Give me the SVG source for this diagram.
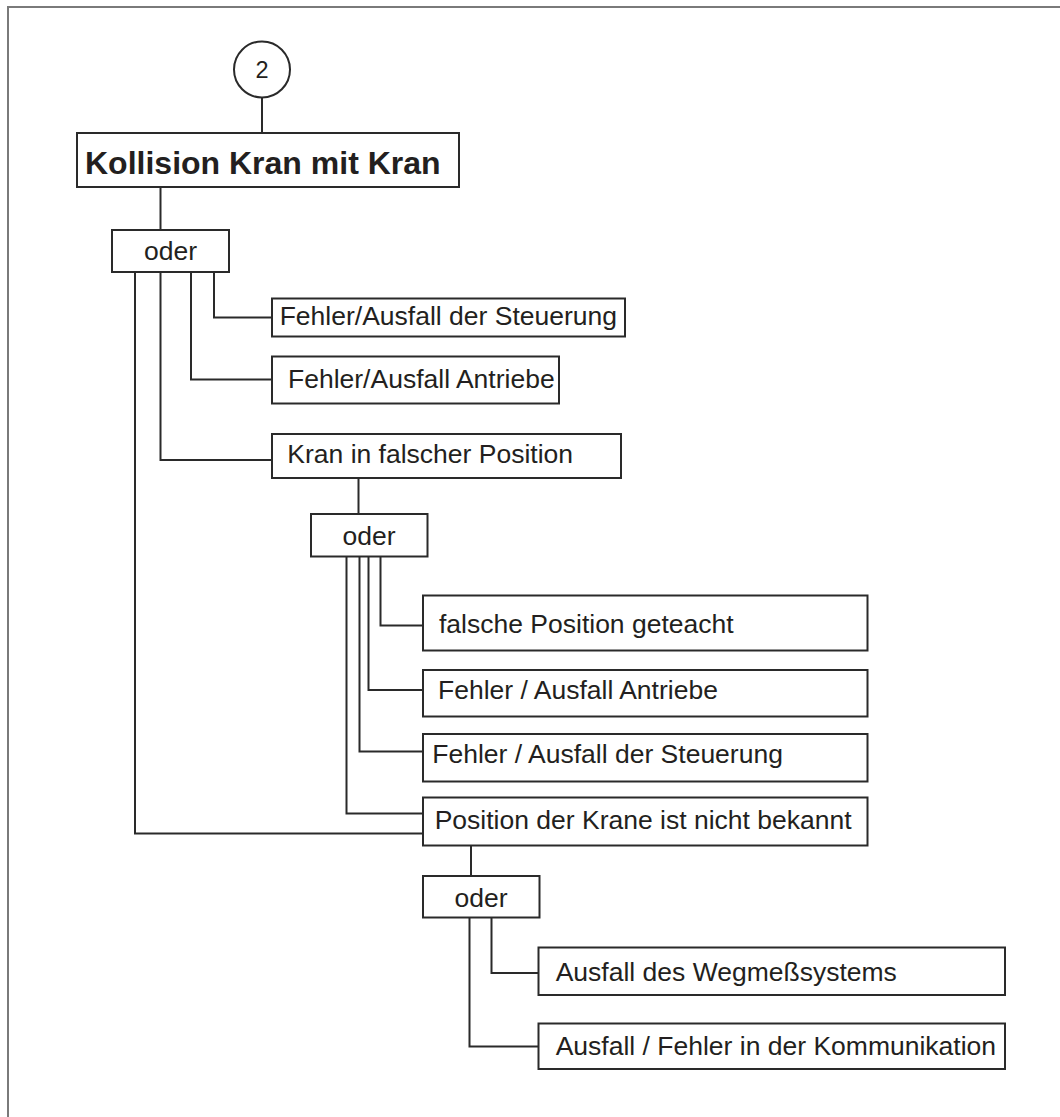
<svg xmlns="http://www.w3.org/2000/svg" width="1060" height="1117" viewBox="0 0 1060 1117">
  <style>
    .frame { fill: none; stroke: #7a7a7a; stroke-width: 2; }
    .box { fill: #ffffff; stroke: #2a2a2a; stroke-width: 2; }
    .wire { fill: none; stroke: #2a2a2a; stroke-width: 2; }
    .lbl { font-family: "Liberation Sans", Arial, sans-serif; font-size: 26.5px; fill: #231f20; }
    .mid { text-anchor: middle; }
    .title { font-family: "Liberation Sans", Arial, sans-serif; font-size: 32px; font-weight: bold; fill: #231f20; }
  </style>
  <rect width="1060" height="1117" fill="#ffffff"/>

  <!-- sheet border (top and left edges only) -->
  <path class="frame" d="M8 1117 V7 H1060"/>

  <!-- connectors -->
  <g id="connectors">
    <path class="wire" d="M262 97.5 V133"/>
    <path class="wire" d="M160.5 187 V230"/>
    <path class="wire" d="M214 272 V317.5 H272"/>
    <path class="wire" d="M191 272 V379.5 H272"/>
    <path class="wire" d="M160.5 272 V460 H272"/>
    <path class="wire" d="M135 272 V833.5 H423"/>
    <path class="wire" d="M358.5 478 V514"/>
    <path class="wire" d="M380.5 556.5 V625.5 H423"/>
    <path class="wire" d="M368.5 556.5 V690 H423"/>
    <path class="wire" d="M359.5 556.5 V751.5 H423"/>
    <path class="wire" d="M346.5 556.5 V813.5 H423"/>
    <path class="wire" d="M471 845.5 V876"/>
    <path class="wire" d="M491.5 917.5 V973 H538.5"/>
    <path class="wire" d="M469.5 917.5 V1046.5 H538.5"/>
  </g>

  <g id="ref-2">
    <circle class="box" cx="262" cy="69.5" r="28"/>
    <text class="lbl mid" x="262" y="78.3" style="font-size:23.5px">2</text>
  </g>

  <g id="top-event">
    <rect class="box" x="77" y="133" width="382" height="54"/>
    <text class="title" x="85" y="174">Kollision Kran mit Kran</text>
  </g>

  <g id="or-1">
    <rect class="box" x="112" y="230" width="117" height="42"/>
    <text class="lbl mid" x="170.5" y="260">oder</text>
  </g>

  <g id="ctrl-fault-1">
    <rect class="box" x="272" y="298.5" width="353" height="38"/>
    <text class="lbl" x="279.7" y="325">Fehler/Ausfall der Steuerung</text>
  </g>

  <g id="drive-fault-1">
    <rect class="box" x="272" y="356.5" width="287" height="47"/>
    <text class="lbl" x="288" y="388.3">Fehler/Ausfall Antriebe</text>
  </g>

  <g id="wrong-position">
    <rect class="box" x="272" y="434" width="349" height="44"/>
    <text class="lbl" x="287.3" y="463.3">Kran in falscher Position</text>
  </g>

  <g id="or-2">
    <rect class="box" x="311" y="514" width="116.5" height="42.5"/>
    <text class="lbl mid" x="369" y="545">oder</text>
  </g>

  <g id="wrong-teach">
    <rect class="box" x="423" y="595.5" width="444.5" height="55"/>
    <text class="lbl" x="439" y="633.3">falsche Position geteacht</text>
  </g>

  <g id="drive-fault-2">
    <rect class="box" x="423" y="670" width="444.5" height="46.5"/>
    <text class="lbl" x="438" y="699.3">Fehler / Ausfall Antriebe</text>
  </g>

  <g id="ctrl-fault-2">
    <rect class="box" x="423" y="734" width="444.5" height="47.5"/>
    <text class="lbl" x="432.3" y="762.7">Fehler / Ausfall der Steuerung</text>
  </g>

  <g id="position-unknown">
    <rect class="box" x="423" y="797.5" width="444.5" height="48"/>
    <text class="lbl" x="434.7" y="829.3">Position der Krane ist nicht bekannt</text>
  </g>

  <g id="or-3">
    <rect class="box" x="423" y="876" width="116.5" height="41.5"/>
    <text class="lbl mid" x="481" y="906.7">oder</text>
  </g>

  <g id="encoder-failure">
    <rect class="box" x="538.5" y="947.5" width="466.5" height="47.5"/>
    <text class="lbl" x="555.7" y="980.7">Ausfall des Wegmeßsystems</text>
  </g>

  <g id="comm-failure">
    <rect class="box" x="538.5" y="1023.5" width="466.5" height="45.5"/>
    <text class="lbl" x="555.7" y="1055">Ausfall / Fehler in der Kommunikation</text>
  </g>
</svg>
